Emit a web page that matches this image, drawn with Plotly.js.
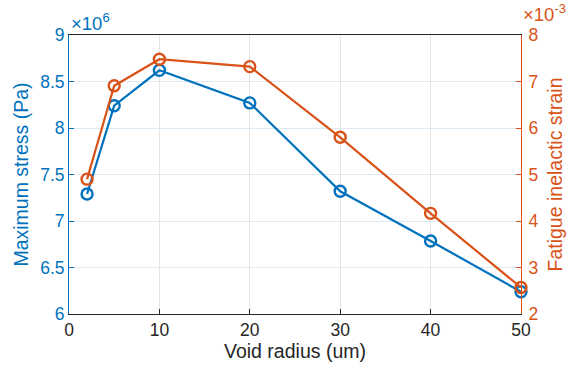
<!DOCTYPE html>
<html>
<head>
<meta charset="utf-8">
<script src="https://cdn.plot.ly/plotly-3.0.1.min.js"></script>
<style>
  html, body { margin: 0; padding: 0; background: #fff; }
  #chart { width: 569px; height: 368px; }
</style>
</head>
<body>
<div id="chart"></div>
<script>
// Void radius (um)
const voidRadius = [2, 5, 10, 20, 30, 40, 50];
// Maximum stress (Pa)
const maxStress = [7.29e6, 8.24e6, 8.62e6, 8.27e6, 7.32e6, 6.785e6, 6.24e6];
// Fatigue inelastic strain
const inelasticStrain = [4.90e-3, 6.91e-3, 7.48e-3, 7.32e-3, 5.80e-3, 4.165e-3, 2.57e-3];

const stressTicks = [6e6, 6.5e6, 7e6, 7.5e6, 8e6, 8.5e6, 9e6];
const stressTickText = ['6', '6.5', '7', '7.5', '8', '8.5', '9'];
const strainTicks = [2e-3, 3e-3, 4e-3, 5e-3, 6e-3, 7e-3, 8e-3];
const strainTickText = ['2', '3', '4', '5', '6', '7', '8'];
const radiusTicks = [0, 10, 20, 30, 40, 50];

const BLUE = '#0072BD';
const ORANGE = '#D95319';
const DARK = '#262626';
const FONT = 'Liberation Sans, Arial, Helvetica, sans-serif';
const TICK_SIZE = 17.5;
const TITLE_SIZE = 19.5;

const traces = [
  {
    x: voidRadius, y: maxStress, yaxis: 'y',
    type: 'scatter', mode: 'lines+markers',
    line: { color: BLUE, width: 2.2 },
    marker: { symbol: 'circle-open', size: 11, color: BLUE, line: { width: 2.4, color: BLUE } },
    cliponaxis: false, hoverinfo: 'skip'
  },
  {
    x: voidRadius, y: inelasticStrain, yaxis: 'y2',
    type: 'scatter', mode: 'lines+markers',
    line: { color: ORANGE, width: 2.2 },
    marker: { symbol: 'circle-open', size: 11, color: ORANGE, line: { width: 2.4, color: ORANGE } },
    cliponaxis: false, hoverinfo: 'skip'
  }
];

const layout = {
  width: 569, height: 368,
  margin: { l: 69, r: 48, t: 35, b: 54 },
  paper_bgcolor: '#fff', plot_bgcolor: '#fff',
  showlegend: false,
  font: { family: FONT, size: TICK_SIZE, color: DARK },
  xaxis: {
    range: [0, 50], tickvals: radiusTicks, ticktext: radiusTicks.map(String),
    showgrid: true, gridcolor: '#e4e4e4', gridwidth: 1,
    zeroline: false, showline: true, linecolor: DARK, linewidth: 1, mirror: true,
    ticks: 'inside', ticklen: 5, tickcolor: DARK,
    tickfont: { size: TICK_SIZE, color: DARK },
    title: { text: 'Void radius (um)', font: { size: TITLE_SIZE, color: DARK }, standoff: 2 }
  },
  yaxis: {
    range: [6e6, 9e6], tickvals: stressTicks, ticktext: stressTickText,
    showgrid: true, gridcolor: '#dde9f3', gridwidth: 1,
    zeroline: false, showline: true, linecolor: BLUE, linewidth: 1,
    ticks: 'inside', ticklen: 5, tickcolor: BLUE,
    tickfont: { size: TICK_SIZE, color: BLUE },
    title: { text: 'Maximum stress (Pa)', font: { size: TITLE_SIZE, color: BLUE }, standoff: 6 }
  },
  yaxis2: {
    overlaying: 'y', side: 'right',
    range: [2e-3, 8e-3], tickvals: strainTicks, ticktext: strainTickText,
    showgrid: false, zeroline: false, showline: true, linecolor: ORANGE, linewidth: 1,
    ticks: 'inside', ticklen: 5, tickcolor: ORANGE, ticklabelstandoff: 3,
    tickfont: { size: TICK_SIZE, color: ORANGE },
    title: { text: 'Fatigue inelactic strain', font: { size: TITLE_SIZE, color: ORANGE }, standoff: 10 }
  },
  annotations: [
    {
      xref: 'paper', yref: 'paper', x: 0, y: 1, xanchor: 'left', yanchor: 'bottom',
      xshift: 0, yshift: -1,
      text: '\u00d710<sup>6</sup>', showarrow: false,
      font: { family: FONT, size: 18.5, color: BLUE }
    },
    {
      xref: 'paper', yref: 'paper', x: 1, y: 1, xanchor: 'left', yanchor: 'bottom',
      xshift: 0, yshift: 8,
      text: '\u00d710<sup>-3</sup>', showarrow: false,
      font: { family: FONT, size: 18.5, color: ORANGE }
    }
  ]
};

Plotly.newPlot('chart', traces, layout, { staticPlot: true, displayModeBar: false });
</script>
</body>
</html>
